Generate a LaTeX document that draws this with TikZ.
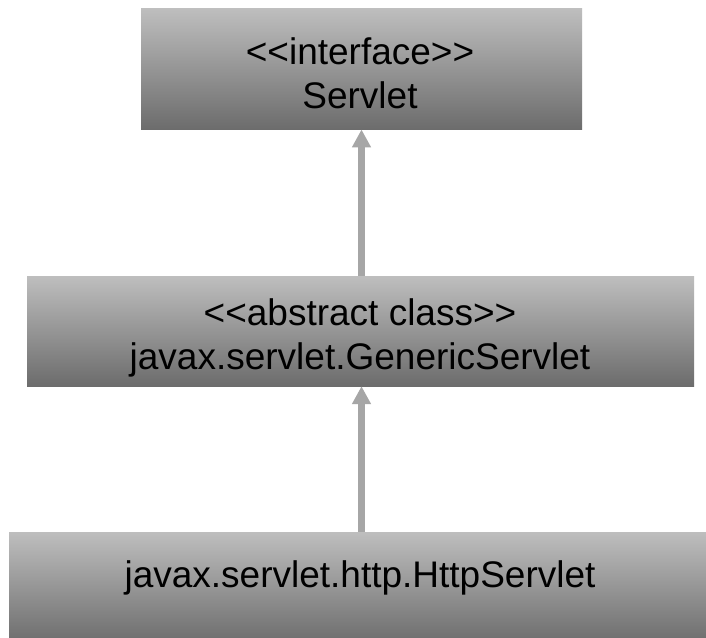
\documentclass[tikz,border=0pt]{standalone}
\usepackage{fontspec}
\setmainfont{Liberation Sans}[Ligatures=TeXOff]
\usetikzlibrary{arrows.meta}
\definecolor{gradtop}{HTML}{BEBEBE}
\definecolor{gradbot}{HTML}{6C6C6C}
\definecolor{arrowgray}{HTML}{A6A6A6}
\tikzset{
  classbox/.style={rectangle, draw=none, top color=gradtop, bottom color=gradbot, inner sep=0pt},
  boxtext/.style={anchor=base, inner sep=0pt, font=\fontsize{37pt}{44pt}\selectfont, text=black},
  inherit/.style={draw=arrowgray, line width=6.5pt, -{Triangle[length=18pt,width=18pt]}}
}
\begin{document}
\begin{tikzpicture}[x=1pt,y=-1pt]
\useasboundingbox (0,0) rectangle (706,637);
\fill[white] (0,0) rectangle (706,637);
% boxes
\node[classbox, minimum width=441pt, minimum height=120.5pt] (servlet) at (361.5,69) {};
\node[classbox, minimum width=667pt, minimum height=110pt] (generic) at (360.5,331) {};
\node[classbox, minimum width=704pt, minimum height=112pt] (http) at (361,588) {};
% texts
\node[boxtext] (t1a) at (360,64) {<<interface>>};
\node[boxtext] (t1b) at (360,108) {Servlet};
\node[boxtext] (t2a) at (360,325) {<<abstract class>>};
\node[boxtext] (t2b) at (360,369) {javax.servlet.GenericServlet};
\node[boxtext] (t3) at (360,587) {javax.servlet.http.HttpServlet};
% connectors
\draw[inherit] (generic.north -| servlet.south) -- (servlet.south);
\draw[inherit] (http.north -| servlet.south) -- (servlet.south |- generic.south);
\end{tikzpicture}
\end{document}
